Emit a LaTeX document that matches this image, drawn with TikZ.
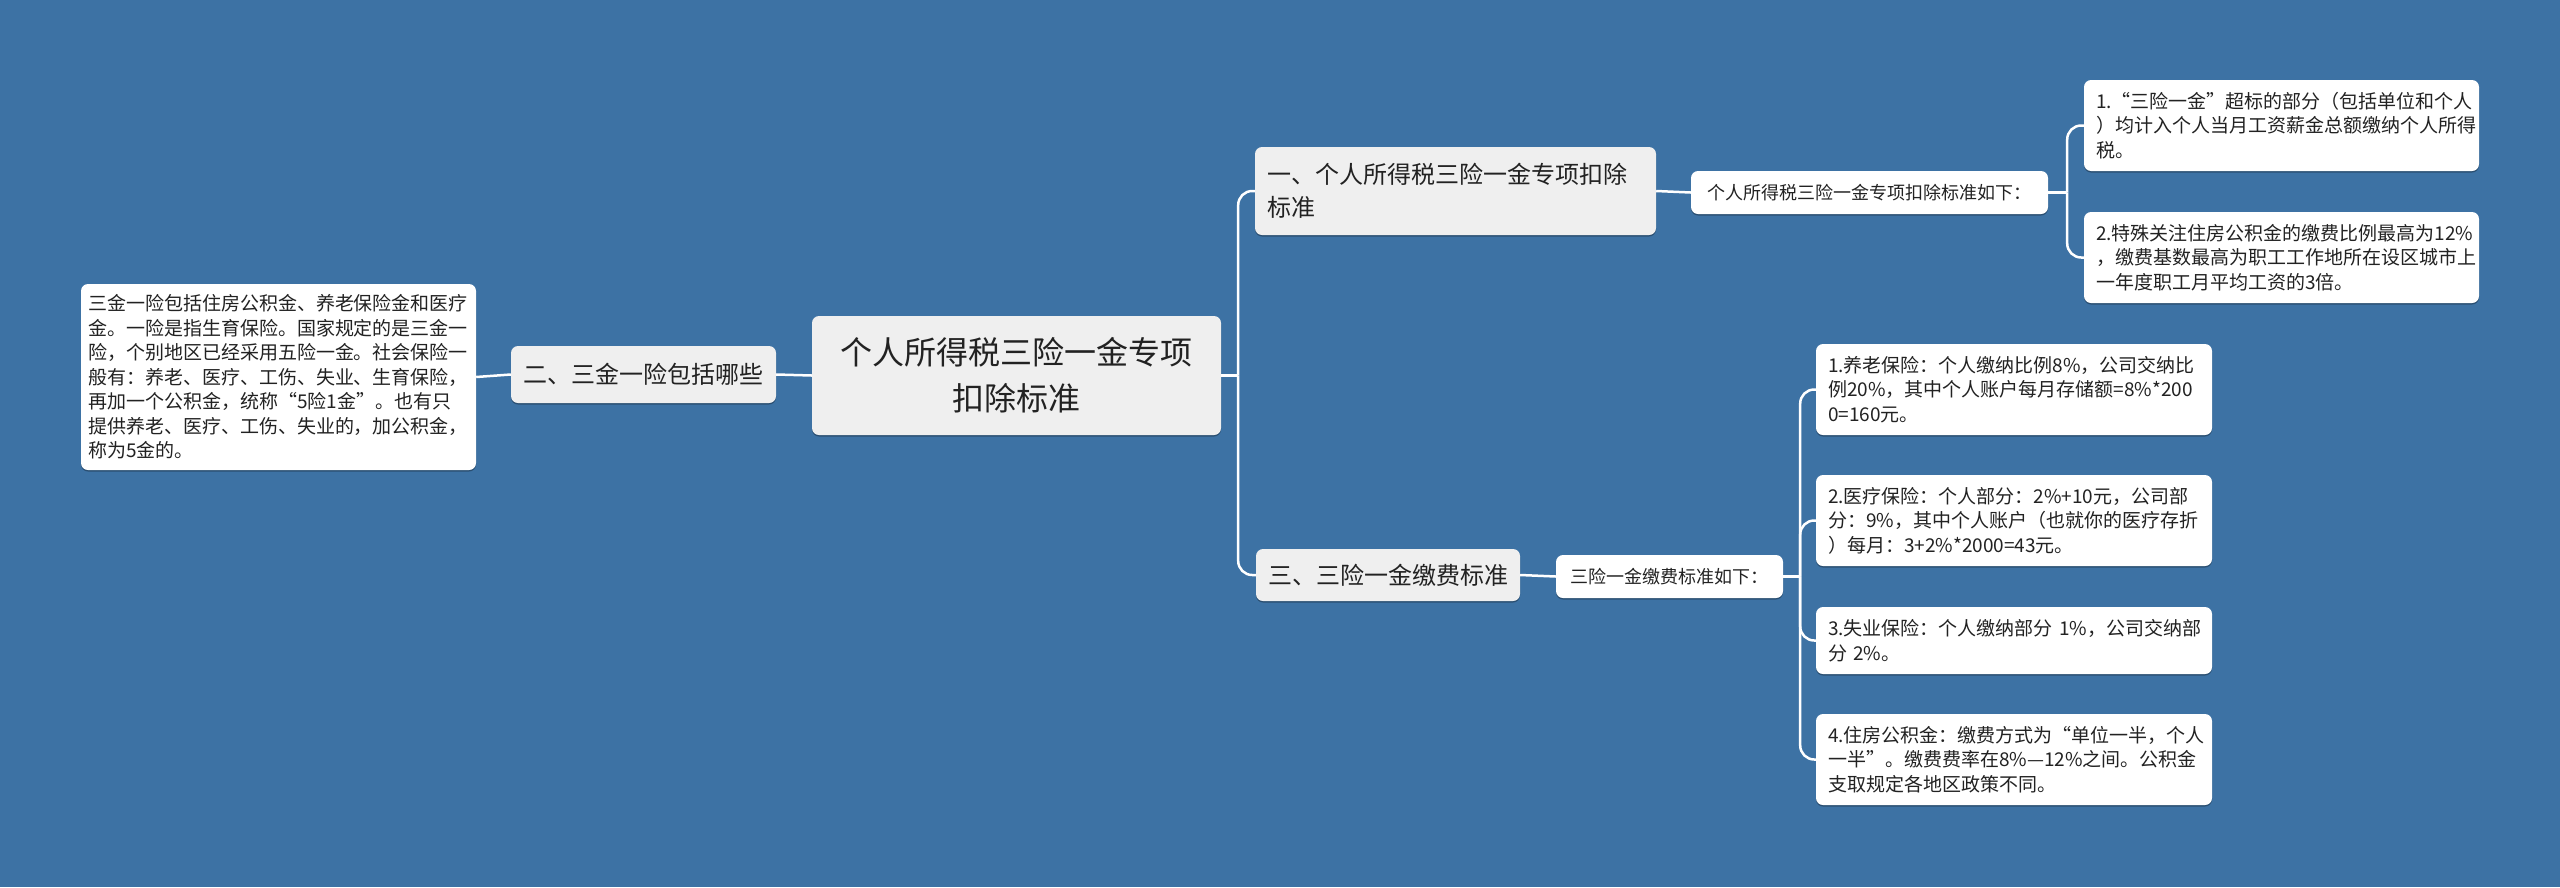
\documentclass[tikz,border=0pt]{standalone}
\usepackage{fontspec}
\setmainfont{Noto Sans CJK SC}
\usetikzlibrary{shadows}
\definecolor{bg}{HTML}{3D72A4}
\definecolor{lgray}{HTML}{EFEFEF}
\definecolor{txt}{HTML}{222222}
\begin{document}
\begin{tikzpicture}[x=1pt,y=-1pt,
  box/.style={rounded corners=7pt, text=txt, inner sep=0pt,
    drop shadow={shadow xshift=0pt,shadow yshift=-1.5pt,opacity=0.3,fill=black}},
  rootbox/.style={box, fill=lgray, minimum width=409pt, minimum height=119pt, align=center,
    font=\fontsize{32}{46}\selectfont},
  lvone/.style={box, fill=lgray, font=\fontsize{24}{33}\selectfont, inner xsep=12pt},
  lvtwo/.style={box, fill=white, font=\fontsize{18}{24}\selectfont},
  leaf/.style={box, fill=white, font=\fontsize{19}{24.5}\selectfont, align=left},
  conn/.style={draw=white, line width=2.5pt, rounded corners=14pt}]
\fill[bg] (0,0) rectangle (2560,887);
\useasboundingbox (0,0) rectangle (2560,887);

\node[rootbox] (root) at (1016.5,375.5) {个人所得税三险一金专项\\扣除标准};

\node[lvone, minimum width=265pt, minimum height=57pt] (n2) at (643.5,374.5) {二、三金一险包括哪些};
\node[leaf, text width=381pt, inner xsep=7pt, minimum height=186pt] (ld) at (278.5,377)
 {三金一险包括住房公积金、养老保险金和医疗\\金。一险是指生育保险。国家规定的是三金一\\险，个别地区已经采用五险一金。社会保险一\\般有：养老、医疗、工伤、失业、生育保险，\\再加一个公积金，统称“5险1金”。也有只\\提供养老、医疗、工伤、失业的，加公积金，\\称为5金的。};

\node[lvone, text width=377pt, minimum height=88pt, align=left] (n1) at (1455.5,191) {一、个人所得税三险一金专项扣除\\标准};
\node[lvtwo, minimum width=357pt, minimum height=43pt] (s1) at (1869.5,192.5) {个人所得税三险一金专项扣除标准如下：};
\node[leaf, text width=371pt, inner xsep=12pt, minimum height=91pt] (d1) at (2281.5,125.5)
 {1.“三险一金”超标的部分（包括单位和个人\\）均计入个人当月工资薪金总额缴纳个人所得\\税。};
\node[leaf, text width=371pt, inner xsep=12pt, minimum height=91pt] (d2) at (2281.5,257.5)
 {2.特殊关注住房公积金的缴费比例最高为12\%\\，缴费基数最高为职工工作地所在设区城市上\\一年度职工月平均工资的3倍。};

\node[lvone, minimum width=264pt, minimum height=52pt] (n3) at (1388,575) {三、三险一金缴费标准};
\node[lvtwo, minimum width=227pt, minimum height=43pt] (s3) at (1669.5,576.5) {三险一金缴费标准如下：};
\node[leaf, text width=372pt, inner xsep=12pt, minimum height=91pt] (i1) at (2014,389.5)
 {1.养老保险：个人缴纳比例8\%，公司交纳比\\例20\%，其中个人账户每月存储额=8\%*200\\0=160元。};
\node[leaf, text width=372pt, inner xsep=12pt, minimum height=91pt] (i2) at (2014,520.5)
 {2.医疗保险：个人部分：2\%+10元，公司部\\分：9\%，其中个人账户（也就你的医疗存折\\）每月：3+2\%*2000=43元。};
\node[leaf, text width=372pt, inner xsep=12pt, minimum height=67pt] (i3) at (2014,640.5)
 {3.失业保险：个人缴纳部分~1\%，公司交纳部\\分~2\%。};
\node[leaf, text width=372pt, inner xsep=12pt, minimum height=91pt] (i4) at (2014,759.5)
 {4.住房公积金：缴费方式为“单位一半，个人\\一半”。缴费费率在8\%—12\%之间。公积金\\支取规定各地区政策不同。};

\draw[conn] (root.west) -- (n2.east);
\draw[conn] (n2.west) -- (ld.east);
\draw[conn] (root.east) -- ++(17,0) coordinate (jr);
\draw[conn] (jr) |- (n1.west);
\draw[conn] (jr) |- (n3.west);
\draw[conn] (n1.east) -- (s1.west);
\draw[conn] (s1.east) -- ++(19,0) coordinate (js1);
\draw[conn] (js1) |- (d1.west);
\draw[conn] (js1) |- (d2.west);
\draw[conn] (n3.east) -- (s3.west);
\draw[conn] (s3.east) -- ++(17,0) coordinate (js3);
\draw[conn] (js3) |- (i1.west);
\draw[conn] (js3) |- (i2.west);
\draw[conn] (js3) |- (i3.west);
\draw[conn] (js3) |- (i4.west);
\end{tikzpicture}
\end{document}
